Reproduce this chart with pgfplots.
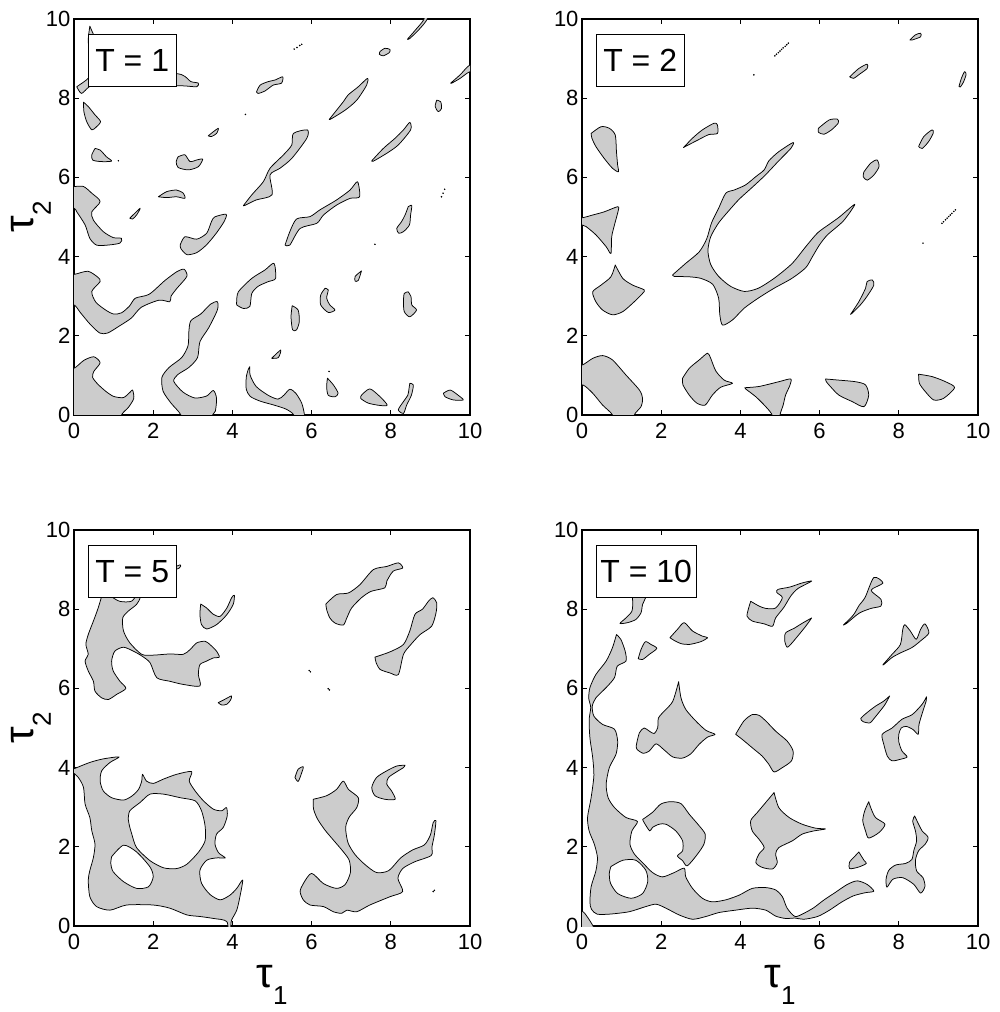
\documentclass[border=0pt]{standalone}
\usepackage{fontspec}
\setmainfont{Liberation Sans}
\usepackage{pgfplots}
\pgfplotsset{compat=1.18}
\definecolor{blobgray}{RGB}{204,204,204}
\pgfplotsset{
 panel/.style={width=396pt,height=396pt,scale only axis,anchor=south west,
   xmin=0,xmax=10,ymin=0,ymax=10,xtick={0,2,...,10},ytick={0,2,...,10},
   tick align=inside,major tick length=5pt,
   axis line style={line width=1.3pt},
   every tick/.style={black,line width=0.8pt},
   tick label style={font=\fontsize{22}{24}\selectfont},
   /pgf/number format/assume math mode=true,
   xticklabel style={yshift=-5pt}},
 blob/.style={fill=blobgray,draw=black,line width=0.75pt,smooth,tension=0.45,line join=round,forget plot},
 hole/.style={fill=white,draw=black,line width=0.75pt,smooth,tension=0.45,line join=round,forget plot},
 dots/.style={only marks,mark=*,mark size=0.55pt,black,forget plot},
 tlab/.style={ylabel={\fontsize{42}{42}\selectfont τ\raisebox{-17pt}{\fontsize{26}{26}\selectfont 2}},
   ylabel style={at={(axis description cs:-0.108,0.5)},anchor=center,inner sep=0pt}},
 xlab/.style={xlabel={\fontsize{42}{42}\selectfont τ\raisebox{-17pt}{\fontsize{26}{26}\selectfont 1}},
   xlabel style={at={(axis description cs:0.5,-0.098)},anchor=north,inner sep=0pt}},
}
\newcommand{\tbox}[2]{\draw[fill=white,line width=0.8pt] (axis cs:0.36,8.3) rectangle (axis cs:#1,9.6);
 \node[font=\fontsize{32}{32}\selectfont,inner sep=0pt] at (axis cs:{(0.36+#1)/2},8.95) {#2};}
\begin{document}
\begin{tikzpicture}
\useasboundingbox (0pt,0pt) rectangle (999pt,1012pt);
% ---------------- Panel 1 : T = 1
\begin{axis}[panel,tlab,at={(74pt,597pt)}]
\addplot[blob] coordinates {(1.2,-0.3)(-0.3,-0.3)(-0.3,1.15)(0,1.18)(0.25,1.38)(0.5,1.47)(0.66,1.32)(0.5,1.1)(0.47,0.95)(0.6,0.78)(0.8,0.6)(1.0,0.47)(1.25,0.44)(1.42,0.58)(1.48,0.63)(1.51,0.42)(1.38,0.2)(1.2,0)(1.2,-0.3)} --cycle;
\addplot[blob] coordinates {(2.7,-0.3)(2.7,0)(2.45,0.3)(2.25,0.6)(2.22,0.95)(2.4,1.2)(2.72,1.45)(2.88,1.75)(2.9,2.1)(2.95,2.38)(3.2,2.55)(3.45,2.8)(3.62,2.86)(3.62,2.65)(3.4,2.2)(3.18,1.85)(3.12,1.45)(2.9,1.2)(2.62,1.02)(2.52,0.85)(2.75,0.58)(3.05,0.43)(3.35,0.48)(3.52,0.62)(3.6,0.42)(3.57,0.1)(3.5,0)(3.5,-0.3)(2.7,-0.3)} --cycle;
\addplot[blob] coordinates {(4.44,1.22)(4.45,1.0)(4.6,0.72)(4.9,0.5)(5.15,0.4)(5.3,0.5)(5.45,0.65)(5.6,0.55)(5.75,0.3)(5.82,0)(5.82,-0.3)(5.55,-0.3)(5.55,0)(5.35,0.15)(5.05,0.25)(4.7,0.35)(4.45,0.47)(4.35,0.65)(4.35,0.95)(4.4,1.15)(4.44,1.22)} --cycle;
\addplot[blob] coordinates {(6.4,0.93)(6.55,0.76)(6.67,0.55)(6.59,0.46)(6.42,0.5)(6.38,0.71)(6.4,0.93)} --cycle;
\addplot[blob] coordinates {(7.26,0.5)(7.47,0.66)(7.73,0.46)(7.91,0.25)(7.73,0.24)(7.43,0.3)(7.24,0.42)(7.26,0.5)} --cycle;
\addplot[blob] coordinates {(8.48,0.8)(8.57,0.76)(8.52,0.5)(8.4,0.25)(8.32,0.04)(8.19,0.13)(8.32,0.34)(8.43,0.5)(8.46,0.67)(8.48,0.8)} --cycle;
\addplot[blob] coordinates {(9.33,0.55)(9.5,0.63)(9.7,0.5)(9.83,0.38)(9.58,0.38)(9.37,0.46)(9.33,0.55)} --cycle;
\addplot[blob] coordinates {(4.99,1.43)(5.22,1.64)(5.16,1.45)(4.99,1.43)} --cycle;
\addplot[blob] coordinates {(-0.3,3.55)(0,3.55)(0.35,3.63)(0.6,3.48)(0.66,3.37)(0.45,3.12)(0.55,2.85)(0.8,2.65)(1.0,2.55)(1.2,2.58)(1.4,2.75)(1.55,2.95)(1.9,3.05)(2.3,3.4)(2.6,3.62)(2.78,3.68)(2.85,3.5)(2.6,3.2)(2.45,3.0)(2.42,2.86)(2.15,2.9)(1.7,2.72)(1.45,2.45)(1.15,2.25)(0.85,2.07)(0.65,2.07)(0.4,2.3)(0.15,2.6)(0,2.78)(-0.3,2.78)(-0.3,3.55)} --cycle;
\addplot[blob] coordinates {(4.11,2.86)(4.15,3.11)(4.49,3.45)(4.82,3.66)(5.05,3.83)(5.09,3.45)(4.91,3.37)(4.65,3.25)(4.49,3.07)(4.44,2.74)(4.28,2.69)(4.11,2.78)(4.11,2.86)} --cycle;
\addplot[blob] coordinates {(5.51,2.76)(5.66,2.65)(5.69,2.36)(5.62,2.15)(5.52,2.15)(5.48,2.48)(5.51,2.76)} --cycle;
\addplot[blob] coordinates {(6.34,3.2)(6.42,3.16)(6.38,2.95)(6.46,2.78)(6.59,2.65)(6.42,2.59)(6.23,2.78)(6.23,3.03)(6.34,3.2)} --cycle;
\addplot[blob] coordinates {(7.26,3.64)(7.1,3.5)(7.1,3.38)(7.18,3.4)(7.26,3.64)} --cycle;
\addplot[blob] coordinates {(8.44,3.11)(8.51,2.99)(8.53,2.78)(8.65,2.65)(8.48,2.48)(8.34,2.61)(8.32,2.86)(8.34,3.07)(8.44,3.11)} --cycle;
\addplot[blob] coordinates {(5.33,4.29)(5.45,4.63)(5.62,4.95)(5.96,5.01)(6.21,5.18)(6.63,5.43)(6.97,5.68)(7.16,5.89)(7.21,5.51)(6.97,5.47)(6.63,5.3)(6.3,5.05)(6.13,4.84)(5.71,4.71)(5.45,4.29)(5.33,4.29)} --cycle;
\addplot[blob] coordinates {(4.28,5.29)(4.49,5.56)(4.78,5.89)(4.95,6.23)(5.29,6.57)(5.5,6.82)(5.54,7.11)(5.89,7.2)(5.88,6.99)(5.5,6.48)(5.2,6.23)(4.95,6.06)(5.0,5.56)(4.6,5.43)(4.31,5.29)(4.28,5.29)} --cycle;
\addplot[blob] coordinates {(6.45,7.47)(6.8,7.91)(6.92,8.08)(7.18,8.29)(7.41,8.5)(7.39,8.33)(7.14,7.95)(6.85,7.7)(6.48,7.47)(6.45,7.47)} --cycle;
\addplot[blob] coordinates {(7.52,6.42)(7.81,6.73)(8.11,6.99)(8.32,7.2)(8.48,7.39)(8.5,7.2)(8.19,6.82)(7.9,6.61)(7.56,6.41)(7.52,6.42)} --cycle;
\addplot[blob] coordinates {(9.16,7.95)(9.26,7.91)(9.28,7.74)(9.2,7.66)(9.12,7.79)(9.16,7.95)} --cycle;
\addplot[blob] coordinates {(8.42,9.49)(8.62,9.72)(8.84,10)(8.84,10.3)(8.92,10.3)(8.92,10)(8.7,9.72)(8.47,9.5)(8.42,9.49)} --cycle;
\addplot[blob] coordinates {(9.51,8.38)(9.75,8.59)(10,8.84)(10.3,8.84)(10.3,8.67)(10,8.67)(9.75,8.5)(9.54,8.38)(9.51,8.38)} --cycle;
\addplot[blob] coordinates {(7.73,9.18)(7.85,9.26)(7.98,9.23)(7.96,9.15)(7.81,9.07)(7.71,9.11)(7.73,9.18)} --cycle;
\addplot[blob] coordinates {(0.4,9.82)(0.55,9.5)(0.8,9.2)(0.5,9.1)(0.36,9.4)(0.4,9.82)} --cycle;
\addplot[blob] coordinates {(0.07,8.29)(0.19,8.12)(0.4,8.3)(0.8,8.5)(0.6,8.7)(0.3,8.45)(0.07,8.29)} --cycle;
\addplot[blob] coordinates {(2.3,8.5)(2.61,8.62)(2.8,8.55)(2.95,8.42)(3.14,8.38)(3.1,8.29)(2.8,8.31)(2.5,8.33)(2.3,8.5)} --cycle;
\addplot[blob] coordinates {(0.24,7.9)(0.36,7.79)(0.53,7.58)(0.67,7.41)(0.57,7.28)(0.45,7.2)(0.32,7.41)(0.25,7.66)(0.24,7.9)} --cycle;
\addplot[blob] coordinates {(0.53,6.73)(0.66,6.69)(0.82,6.52)(0.95,6.41)(0.66,6.4)(0.47,6.44)(0.45,6.57)(0.53,6.73)} --cycle;
\addplot[blob] coordinates {(2.63,6.52)(2.8,6.57)(2.93,6.4)(3.1,6.44)(3.25,6.46)(3.14,6.27)(2.89,6.19)(2.63,6.25)(2.58,6.4)(2.63,6.52)} --cycle;
\addplot[blob] coordinates {(3.39,7.05)(3.64,7.24)(3.6,7.11)(3.47,7.03)(3.39,7.05)} --cycle;
\addplot[blob] coordinates {(4.61,8.16)(4.7,8.33)(4.91,8.42)(5.08,8.46)(5.27,8.54)(5.24,8.38)(5.03,8.33)(4.82,8.18)(4.65,8.12)(4.61,8.16)} --cycle;
\addplot[blob] coordinates {(2.13,5.51)(2.34,5.64)(2.59,5.68)(2.76,5.6)(2.8,5.47)(2.59,5.51)(2.34,5.49)(2.13,5.51)} --cycle;
\addplot[blob] coordinates {(1.41,4.97)(1.67,5.22)(1.58,5.05)(1.48,4.95)(1.41,4.97)} --cycle;
\addplot[blob] coordinates {(-0.3,5.77)(0,5.77)(0.24,5.77)(0.45,5.6)(0.66,5.39)(0.45,5.13)(0.49,4.92)(0.74,4.63)(0.99,4.48)(1.2,4.46)(1.16,4.34)(0.85,4.29)(0.57,4.29)(0.4,4.46)(0.28,4.8)(0.07,5.13)(0,5.22)(-0.3,5.22)(-0.3,5.77)} --cycle;
\addplot[blob] coordinates {(2.68,4.29)(2.8,4.5)(3.1,4.44)(3.35,4.59)(3.47,4.88)(3.55,5.0)(3.84,5.07)(3.8,4.9)(3.6,4.6)(3.35,4.3)(3.1,4.1)(2.85,4.05)(2.7,4.2)(2.68,4.29)} --cycle;
\addplot[blob] coordinates {(8.44,5.26)(8.53,5.29)(8.5,5.05)(8.47,4.8)(8.32,4.63)(8.2,4.59)(8.15,4.71)(8.27,4.88)(8.36,5.05)(8.44,5.26)} --cycle;
\addplot[dots] coordinates {(5.56,9.24)(5.63,9.28)(5.7,9.33)(5.75,9.36)(4.33,7.59)(1.12,6.42)(9.28,5.51)(9.32,5.6)(9.36,5.7)(7.6,4.31)(6.44,1.1)};
\tbox{2.58}{T = 1}
\end{axis}
% ---------------- Panel 2 : T = 2
\begin{axis}[panel,at={(582pt,597pt)}]
\addplot[blob] coordinates {(-0.3,1.26)(0,1.26)(0.27,1.43)(0.52,1.5)(0.77,1.39)(1.11,1.01)(1.45,0.63)(1.53,0.42)(1.49,0.21)(1.32,0)(1.32,-0.3)(0.77,-0.3)(0.77,0)(0.52,0.25)(0.27,0.55)(0.02,0.76)(-0.3,0.76)(-0.3,1.26)} --cycle;
\addplot[blob] coordinates {(0.84,3.79)(1.03,3.45)(1.28,3.28)(1.57,3.16)(1.53,3.07)(1.32,2.86)(1.03,2.61)(0.77,2.53)(0.52,2.65)(0.35,2.86)(0.27,3.11)(0.48,3.28)(0.73,3.49)(0.84,3.79)} --cycle;
\addplot[blob] coordinates {(-0.3,4.98)(0,4.98)(0.27,5.05)(0.56,5.13)(0.9,5.26)(0.92,5.18)(0.82,4.8)(0.75,4.5)(0.73,4.08)(0.61,4.25)(0.35,4.55)(0.1,4.76)(0,4.8)(-0.3,4.8)(-0.3,4.98)} --cycle;
\addplot[blob] coordinates {(0.23,7.11)(0.48,7.28)(0.69,7.24)(0.84,7.07)(0.87,6.65)(0.9,6.31)(0.92,6.14)(0.77,6.23)(0.56,6.48)(0.35,6.78)(0.25,6.99)(0.23,7.11)} --cycle;
\addplot[blob] coordinates {(2.56,6.75)(2.79,6.99)(3.04,7.2)(3.34,7.37)(3.42,7.32)(3.42,7.11)(3.2,7.08)(2.92,6.94)(2.61,6.78)(2.56,6.75)} --cycle;
\addplot[blob] coordinates {(2.29,3.54)(2.62,3.83)(2.96,4.12)(3.15,4.45)(3.27,4.85)(3.45,5.22)(3.63,5.6)(3.84,5.68)(4.13,5.81)(4.39,6.02)(4.6,6.19)(4.72,6.42)(4.97,6.65)(5.33,6.88)(5.28,6.74)(4.97,6.42)(4.62,6.05)(4.3,5.75)(3.97,5.45)(3.7,5.15)(3.45,4.85)(3.25,4.5)(3.18,4.15)(3.25,3.8)(3.45,3.5)(3.75,3.25)(4.1,3.12)(4.45,3.2)(4.85,3.45)(5.3,3.82)(5.65,4.25)(5.95,4.6)(6.25,4.82)(6.5,5.0)(6.89,5.32)(6.6,4.9)(6.2,4.55)(6.0,4.3)(5.82,4.0)(5.65,3.72)(5.3,3.45)(4.85,3.2)(4.45,2.95)(4.1,2.7)(3.8,2.4)(3.55,2.27)(3.48,2.53)(3.45,2.95)(3.3,3.3)(3.0,3.45)(2.7,3.49)(2.33,3.5)(2.29,3.54)} --cycle;
\addplot[blob] coordinates {(2.54,0.93)(2.71,1.18)(2.96,1.39)(3.17,1.56)(3.25,1.43)(3.38,1.11)(3.59,0.88)(3.8,0.8)(3.5,0.7)(3.29,0.5)(3.11,0.25)(2.9,0.3)(2.71,0.5)(2.55,0.76)(2.54,0.93)} --cycle;
\addplot[blob] coordinates {(4.12,0.69)(4.47,0.72)(4.97,0.84)(5.27,0.91)(5.25,0.75)(5.14,0.5)(5.08,0.25)(5.0,0)(5.0,-0.3)(4.8,-0.3)(4.8,0)(4.64,0.21)(4.39,0.46)(4.13,0.66)(4.12,0.69)} --cycle;
\addplot[blob] coordinates {(6.15,0.91)(6.49,0.88)(6.91,0.84)(7.16,0.76)(7.24,0.5)(7.12,0.21)(6.82,0.34)(6.49,0.5)(6.28,0.71)(6.17,0.84)(6.15,0.91)} --cycle;
\addplot[blob] coordinates {(8.5,1.03)(8.84,0.97)(9.18,0.84)(9.41,0.69)(9.13,0.42)(8.88,0.38)(8.67,0.59)(8.52,0.8)(8.5,1.03)} --cycle;
\addplot[blob] coordinates {(6.78,2.54)(6.99,2.86)(7.16,3.2)(7.2,3.37)(7.33,3.41)(7.37,3.28)(7.2,3.0)(7.03,2.78)(6.82,2.57)(6.78,2.54)} --cycle;
\addplot[blob] coordinates {(7.12,6.14)(7.29,6.36)(7.45,6.44)(7.5,6.27)(7.37,6.06)(7.2,5.93)(7.1,6.02)(7.12,6.14)} --cycle;
\addplot[blob] coordinates {(5.97,7.24)(6.24,7.45)(6.45,7.47)(6.47,7.37)(6.3,7.2)(6.11,7.09)(5.97,7.14)(5.97,7.24)} --cycle;
\addplot[blob] coordinates {(6.76,8.54)(6.99,8.75)(7.2,8.86)(7.2,8.75)(7.0,8.6)(6.86,8.5)(6.76,8.54)} --cycle;
\addplot[blob] coordinates {(8.5,6.78)(8.63,7.03)(8.84,7.2)(8.87,7.12)(8.75,6.9)(8.59,6.73)(8.5,6.78)} --cycle;
\addplot[blob] coordinates {(8.28,9.47)(8.42,9.6)(8.55,9.64)(8.55,9.55)(8.34,9.47)(8.28,9.47)} --cycle;
\addplot[blob] coordinates {(9.52,8.3)(9.58,8.5)(9.66,8.67)(9.7,8.6)(9.63,8.4)(9.55,8.28)(9.52,8.3)} --cycle;
\addplot[dots] coordinates {(4.34,8.59)(4.87,9.07)(4.91,9.11)(4.96,9.15)(5.0,9.19)(5.04,9.23)(5.08,9.27)(5.13,9.31)(5.17,9.35)(5.21,9.39)(9.09,4.84)(9.13,4.88)(9.18,4.93)(9.22,4.97)(9.26,5.01)(9.3,5.05)(9.34,5.09)(9.39,5.14)(9.43,5.18)(8.61,4.34)};
\tbox{2.58}{T = 2}
\end{axis}
% ---------------- Panel 3 : T = 5
\begin{axis}[panel,tlab,xlab,at={(74pt,86pt)}]
\addplot[blob] coordinates {(-0.05,3.95)(0.4,4.13)(0.74,4.22)(1.14,4.27)(0.91,4.13)(0.7,3.92)(0.66,3.66)(0.74,3.41)(0.95,3.24)(1.25,3.18)(1.46,3.28)(1.63,3.45)(1.71,3.66)(1.73,3.83)(1.83,3.66)(2.0,3.6)(2.26,3.71)(2.59,3.83)(2.97,3.9)(2.91,3.66)(3.06,3.41)(3.27,3.16)(3.52,2.95)(3.73,2.91)(3.85,2.99)(3.87,2.78)(3.77,2.49)(3.6,2.32)(3.56,2.07)(3.65,1.85)(3.82,1.72)(3.6,1.72)(3.35,1.66)(3.18,1.41)(3.22,1.08)(3.43,0.8)(3.69,0.66)(3.94,0.78)(4.11,0.95)(4.26,1.16)(4.19,0.74)(4.11,0.4)(3.98,0.15)(3.96,0)(3.96,-0.3)(3.9,-0.3)(3.86,0.11)(3.52,0.19)(3.18,0.24)(2.85,0.28)(2.42,0.45)(2.0,0.53)(1.33,0.53)(0.91,0.4)(0.57,0.49)(0.4,0.74)(0.36,1.16)(0.4,1.4)(0.49,1.73)(0.53,2.07)(0.45,2.4)(0.4,2.74)(0.28,3.08)(0.24,3.5)(0.11,3.75)(-0.05,3.9)(-0.05,3.95)} --cycle;
\addplot[hole] coordinates {(1.37,2.7)(1.41,2.91)(1.67,3.12)(1.92,3.33)(2.26,3.33)(2.68,3.24)(3.06,3.16)(3.22,2.91)(3.31,2.53)(3.31,2.15)(3.14,1.86)(2.85,1.56)(2.59,1.45)(2.26,1.47)(1.92,1.65)(1.58,1.98)(1.46,2.32)(1.4,2.53)(1.37,2.7)} --cycle;
\addplot[hole] coordinates {(0.95,1.75)(1.25,2.04)(1.58,1.87)(1.92,1.49)(2.0,1.24)(1.88,0.99)(1.58,0.95)(1.25,1.12)(0.99,1.37)(0.93,1.58)(0.95,1.75)} --cycle;
\addplot[blob] coordinates {(6.04,3.2)(6.38,3.29)(6.63,3.45)(6.8,3.66)(6.93,3.45)(7.18,3.24)(7.14,2.99)(6.95,2.75)(6.86,2.49)(6.92,2.1)(7.1,1.8)(7.35,1.55)(7.64,1.35)(7.95,1.4)(8.25,1.72)(8.55,1.92)(8.85,2.05)(9.0,2.3)(9.07,2.61)(9.14,2.66)(9.1,2.3)(9.04,2.0)(9.02,1.78)(8.6,1.62)(8.3,1.45)(8.18,1.2)(8.3,0.87)(7.98,0.74)(7.47,0.53)(7.14,0.36)(6.89,0.4)(6.76,0.32)(6.55,0.36)(6.3,0.49)(5.96,0.53)(5.79,0.66)(5.71,0.87)(5.79,1.07)(6.0,1.33)(6.3,1.07)(6.63,0.95)(6.85,1.05)(6.98,1.35)(6.95,1.66)(6.78,1.9)(6.55,2.17)(6.34,2.42)(6.15,2.7)(6.05,2.95)(6.04,3.2)} --cycle;
\addplot[blob] coordinates {(5.58,3.75)(5.66,3.96)(5.79,4.02)(5.75,3.87)(5.66,3.65)(5.58,3.75)} --cycle;
\addplot[blob] coordinates {(8.36,4.06)(8.15,4.04)(7.9,3.92)(7.64,3.75)(7.52,3.5)(7.6,3.29)(7.85,3.2)(8.11,3.2)(8.02,3.41)(7.9,3.58)(7.94,3.75)(8.19,3.92)(8.32,4.0)(8.36,4.06)} --cycle;
\addplot[blob] coordinates {(0.75,8.5)(0.61,8.03)(0.49,7.7)(0.36,7.36)(0.3,7.11)(0.36,6.86)(0.28,6.69)(0.36,6.44)(0.49,6.18)(0.53,5.93)(0.7,5.76)(0.87,5.72)(1.08,5.85)(1.31,6.0)(1.16,6.18)(0.99,6.44)(0.95,6.69)(1.03,6.94)(1.25,7.04)(1.5,6.94)(1.71,6.82)(1.92,6.65)(2.09,6.27)(2.42,6.18)(2.76,6.1)(3.18,6.06)(3.14,6.35)(3.18,6.6)(3.35,6.69)(3.52,6.77)(3.67,6.79)(3.6,6.94)(3.43,7.11)(3.31,7.19)(3.1,7.15)(2.93,6.98)(2.76,6.86)(2.42,6.87)(2.0,6.84)(1.71,6.86)(1.41,7.15)(1.25,7.45)(1.23,7.78)(1.37,7.95)(1.58,8.12)(1.67,8.29)(1.62,8.4)(1.45,8.2)(1.15,8.2)(0.9,8.35)(0.75,8.5)} --cycle;
\addplot[blob] coordinates {(2.4,9.0)(2.68,9.12)(2.66,9.04)(2.4,8.95)(2.4,9.0)} --cycle;
\addplot[blob] coordinates {(3.2,8.13)(3.35,8.03)(3.52,7.87)(3.69,7.82)(3.86,8.03)(3.98,8.29)(4.05,8.35)(4.02,8.12)(3.85,7.85)(3.6,7.61)(3.35,7.5)(3.22,7.61)(3.18,7.87)(3.2,8.13)} --cycle;
\addplot[blob] coordinates {(3.64,5.64)(3.8,5.72)(3.98,5.81)(3.95,5.7)(3.86,5.6)(3.73,5.58)(3.64,5.64)} --cycle;
\addplot[blob] coordinates {(6.36,8.13)(6.63,8.37)(6.93,8.41)(7.22,8.62)(7.56,9.0)(7.9,9.08)(8.19,9.17)(8.3,9.04)(8.06,8.96)(7.9,8.71)(7.85,8.54)(7.5,8.45)(7.26,8.29)(7.01,8.03)(6.89,7.78)(6.8,7.6)(6.59,7.65)(6.46,7.78)(6.38,7.99)(6.36,8.13)} --cycle;
\addplot[blob] coordinates {(7.6,6.79)(7.81,6.86)(8.02,6.94)(8.32,7.11)(8.48,7.45)(8.61,7.87)(8.8,8.0)(8.95,8.2)(9.06,8.29)(9.16,8.16)(9.14,7.9)(9.03,7.57)(8.74,7.36)(8.5,7.1)(8.32,6.86)(8.19,6.35)(7.98,6.39)(7.73,6.48)(7.63,6.65)(7.6,6.79)} --cycle;
\addplot[dots] coordinates {(5.94,6.45)(5.97,6.42)(6.42,5.99)(6.45,5.96)(9.07,0.87)(9.1,0.9)};
\tbox{2.58}{T = 5}
\end{axis}
% ---------------- Panel 4 : T = 10
\begin{axis}[panel,xlab,at={(582pt,86pt)}]
\addplot[blob] coordinates {(-0.3,0.38)(0,0.38)(0.12,0.25)(0.22,0.1)(0.28,0)(0.28,-0.3)(-0.3,-0.3)(-0.3,0.38)} --cycle;
\addplot[blob] coordinates {(0.87,7.36)(0.98,7.24)(1.09,6.94)(1.11,6.69)(0.89,6.56)(0.82,6.27)(0.61,6.02)(0.35,5.76)(0.26,5.55)(0.3,5.3)(0.52,5.09)(0.82,4.97)(0.9,4.67)(0.86,4.34)(0.69,4.0)(0.61,3.58)(0.66,3.24)(0.82,2.99)(1.11,2.74)(1.4,2.64)(1.26,2.4)(1.21,2.07)(1.32,1.82)(1.53,1.6)(1.78,1.35)(2.03,1.24)(2.33,1.35)(2.58,1.46)(2.62,1.24)(2.79,0.95)(3.04,0.7)(3.29,0.61)(3.63,0.66)(3.97,0.78)(4.3,0.95)(4.64,0.97)(4.89,0.91)(5.06,0.74)(5.18,0.45)(5.38,0.24)(5.6,0.32)(5.85,0.46)(6.1,0.65)(6.4,0.85)(6.7,1.05)(6.95,1.14)(7.2,1.05)(7.37,0.88)(7.15,0.84)(6.85,0.76)(6.55,0.6)(6.25,0.4)(5.95,0.24)(5.6,0.17)(5.38,0.2)(5.14,0.19)(4.89,0.25)(4.64,0.4)(4.3,0.45)(3.88,0.4)(3.46,0.34)(3.13,0.24)(2.79,0.17)(2.45,0.28)(2.12,0.45)(1.87,0.55)(1.61,0.49)(1.19,0.36)(0.7,0.3)(0.38,0.3)(0.24,0.42)(0.2,0.6)(0.23,0.99)(0.35,1.39)(0.39,1.73)(0.31,2.07)(0.18,2.4)(0.14,2.74)(0.23,3.24)(0.3,3.8)(0.27,4.25)(0.2,4.75)(0.18,5.2)(0.22,5.52)(0.17,5.75)(0.2,6.02)(0.35,6.35)(0.61,6.69)(0.77,7.03)(0.87,7.36)} --cycle;
\addplot[hole] coordinates {(0.73,1.5)(1.03,1.66)(1.36,1.66)(1.61,1.41)(1.66,1.12)(1.53,0.82)(1.24,0.7)(0.9,0.82)(0.72,1.08)(0.69,1.33)(0.73,1.5)} --cycle;
\addplot[blob] coordinates {(1.53,2.69)(1.78,2.87)(1.99,3.08)(2.24,3.14)(2.5,3.09)(2.71,2.82)(2.96,2.53)(3.11,2.32)(3.08,2.07)(2.92,1.82)(2.66,1.52)(2.54,1.65)(2.41,1.77)(2.54,1.9)(2.54,2.15)(2.37,2.4)(2.12,2.57)(1.95,2.57)(1.78,2.49)(1.71,2.4)(1.57,2.61)(1.53,2.69)} --cycle;
\addplot[blob] coordinates {(4.85,3.37)(4.97,2.99)(5.23,2.74)(5.56,2.57)(5.9,2.47)(6.15,2.45)(5.85,2.4)(5.56,2.32)(5.31,2.15)(4.97,1.98)(4.89,1.82)(4.93,1.6)(4.81,1.44)(4.55,1.48)(4.39,1.6)(4.47,1.82)(4.6,1.98)(4.47,2.19)(4.3,2.4)(4.26,2.66)(4.43,2.87)(4.64,3.12)(4.85,3.37)} --cycle;
\addplot[blob] coordinates {(6.99,1.87)(7.12,1.66)(7.18,1.58)(6.99,1.49)(6.76,1.45)(6.76,1.62)(6.87,1.74)(6.99,1.87)} --cycle;
\addplot[blob] coordinates {(7.24,3.14)(7.29,2.99)(7.41,2.74)(7.65,2.57)(7.5,2.36)(7.24,2.22)(7.16,2.4)(7.09,2.66)(7.14,2.91)(7.24,3.14)} --cycle;
\addplot[blob] coordinates {(8.4,2.78)(8.5,2.57)(8.59,2.4)(8.74,2.24)(8.67,2.07)(8.5,1.9)(8.42,1.66)(8.45,1.39)(8.61,1.22)(8.66,1.0)(8.55,0.83)(8.38,1.05)(8.1,1.22)(7.85,1.18)(7.7,0.98)(7.68,1.2)(7.75,1.41)(7.92,1.54)(8.17,1.58)(8.33,1.68)(8.38,1.91)(8.45,2.15)(8.42,2.4)(8.35,2.65)(8.4,2.78)} --cycle;
\addplot[blob] coordinates {(1.25,8.5)(1.28,8.2)(1.26,7.95)(1.11,7.78)(0.96,7.64)(1.15,7.66)(1.36,7.74)(1.49,7.91)(1.53,8.12)(1.61,8.3)(1.65,8.5)(1.25,8.5)} --cycle;
\addplot[blob] coordinates {(1.42,6.75)(1.49,6.98)(1.6,7.18)(1.74,7.11)(1.89,7.01)(1.7,6.86)(1.53,6.73)(1.42,6.75)} --cycle;
\addplot[blob] coordinates {(2.22,7.28)(2.41,7.49)(2.58,7.66)(2.79,7.45)(3.04,7.32)(3.17,7.28)(3.0,7.18)(2.71,7.11)(2.5,7.13)(2.33,7.21)(2.22,7.28)} --cycle;
\addplot[blob] coordinates {(4.26,8.2)(4.47,8.08)(4.64,8.02)(4.89,8.03)(5.06,8.29)(4.92,8.42)(4.95,8.5)(5.25,8.56)(5.55,8.66)(5.8,8.71)(5.45,8.52)(5.27,8.33)(5.1,8.05)(4.89,7.78)(4.81,7.57)(4.6,7.63)(4.3,7.7)(4.17,7.82)(4.2,8.0)(4.26,8.2)} --cycle;
\addplot[blob] coordinates {(5.8,7.78)(5.65,7.57)(5.48,7.36)(5.27,7.11)(5.18,7.04)(5.12,7.19)(5.14,7.4)(5.36,7.52)(5.57,7.65)(5.8,7.78)} --cycle;
\addplot[blob] coordinates {(6.6,7.6)(6.85,7.85)(7.0,8.1)(7.15,8.3)(7.37,8.8)(7.6,8.66)(7.3,8.48)(7.55,8.25)(7.55,8.08)(7.3,8.02)(7.0,7.9)(6.68,7.64)(6.6,7.6)} --cycle;
\addplot[blob] coordinates {(7.6,6.6)(7.83,6.86)(8.04,7.11)(8.1,7.49)(8.15,7.61)(8.29,7.45)(8.44,7.24)(8.55,7.49)(8.66,7.63)(8.76,7.4)(8.55,7.2)(8.33,7.03)(8.05,6.9)(7.83,6.78)(7.62,6.6)(7.6,6.6)} --cycle;
\addplot[blob] coordinates {(3.88,4.84)(4.09,5.18)(4.3,5.34)(4.47,5.32)(4.64,5.18)(4.89,4.92)(5.18,4.67)(5.33,4.42)(5.29,4.17)(5.06,4.0)(4.85,3.89)(4.72,4.08)(4.55,4.29)(4.3,4.5)(4.05,4.71)(3.88,4.84)} --cycle;
\addplot[blob] coordinates {(2.44,6.17)(2.5,5.76)(2.62,5.47)(2.87,5.18)(3.13,4.94)(3.36,4.84)(3.17,4.77)(2.96,4.59)(2.75,4.35)(2.54,4.24)(2.29,4.27)(2.07,4.45)(1.87,4.6)(1.7,4.42)(1.55,4.36)(1.4,4.45)(1.37,4.55)(1.45,4.88)(1.57,5.0)(1.7,4.92)(1.82,4.86)(1.91,5.0)(1.93,5.25)(2.07,5.42)(2.29,5.67)(2.44,6.17)} --cycle;
\addplot[blob] coordinates {(7.77,5.81)(7.62,5.68)(7.41,5.55)(7.2,5.39)(7.04,5.24)(7.1,5.16)(7.27,5.13)(7.39,5.26)(7.52,5.42)(7.65,5.59)(7.77,5.81)} --cycle;
\addplot[blob] coordinates {(8.7,5.79)(8.59,5.6)(8.34,5.34)(8.08,5.22)(7.83,5.0)(7.58,4.84)(7.62,4.59)(7.71,4.29)(7.83,4.17)(8.04,4.21)(8.21,4.27)(8.08,4.42)(8.0,4.65)(8.0,4.84)(8.06,5.0)(8.19,5.04)(8.36,4.96)(8.49,4.84)(8.51,5.09)(8.61,5.43)(8.69,5.68)(8.7,5.79)} --cycle;
\tbox{2.88}{T = 10}
\end{axis}
\end{tikzpicture}
\end{document}
